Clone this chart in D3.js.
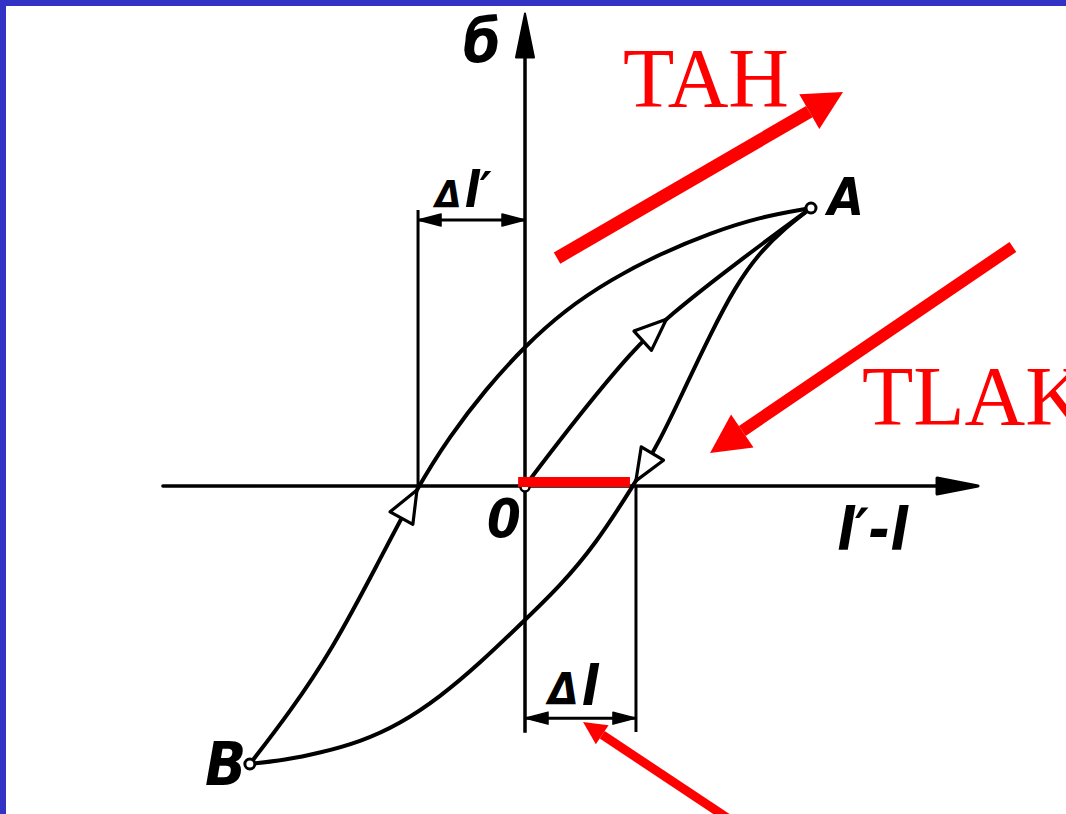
<!DOCTYPE html>
<html>
<head>
<meta charset="utf-8">
<script src="https://cdn.jsdelivr.net/npm/d3@7"></script>
<style>
  html, body { margin: 0; padding: 0; background: #fff; }
  svg { display: block; }
</style>
</head>
<body>
<div id="chart"></div>
<script>
// Hysteresis loop (Bauschinger effect) - stress vs. strain, with TAH / TLAK notes.
// Data units: point A sits at (10, 10), origin O at (0, 0).

const loadBranch   = [[0, 0], [1.92, 2.59], [3.78, 4.89], [4.97, 6.08], [7.52, 8.13], [10, 10]];
const unloadBranch = [[10, 10], [9.09, 9.28], [8.22, 8.42], [7.34, 7.16], [6.47, 5.43], [5.59, 3.53],
                      [4.72, 1.62], [3.78, 0], [2.45, -2.12], [1.22, -3.60], [0, -4.82],
                      [-1.57, -6.37], [-2.97, -7.59], [-4.37, -8.56], [-5.77, -9.21],
                      [-7.17, -9.60], [-8.39, -9.86], [-9.62, -10]];
const reloadBranch = [[-9.62, -10], [-8.22, -8.13], [-6.75, -5.90], [-5.17, -2.84], [-3.74, 0],
                      [-2.62, 1.80], [-1.40, 3.45], [0, 5.04], [1.40, 6.33], [2.97, 7.41],
                      [4.72, 8.35], [6.47, 9.10], [8.22, 9.68], [10, 10]];

const endPoints   = [{ name: "A", x: 10, y: 10 }, { name: "B", x: -9.62, y: -10 }];
const branchArrowTips = [[4.90, 6.04], [3.95, 0.14], [-3.78, -0.14]];

const xAxisRange = [-12.66, 15.84];
const yAxisRange = [-8.88, 17.0];

// dimension lines: span [x0, x1, y], extension line [x, y0, y1]
const dimDeltaLp = { span: [-3.74, 0, 9.57], ext: [-3.74, 0, 9.93] };
const dimDeltaL  = { span: [0, 3.88, -8.35], ext: [3.88, 0, -8.85] };

const redSegment = [[-0.24, 0.14], [3.67, 0.14]];
const redArrows  = [
  { from: [1.12, 8.20],  to: [11.12, 14.17] },
  { from: [17.06, 8.60], to: [6.47, 1.19] },
  { from: [7.60, -12.3], to: [2.03, -8.49] }
];

const labels = [
  { text: "б",    x: -2.17, y: 15.25, kind: "sym", size: 60 },
  { text: "A",    x: 10.59, y: 9.75,  kind: "sym", size: 52 },
  { text: "B",    x: -11.19, y: -10.76, kind: "sym", size: 60 },
  { text: "0",    x: -1.33, y: -1.83, kind: "sym", size: 54 },
  { text: "l′-l", x: 10.91, y: -2.30, kind: "sym", size: 58 },
  { text: "TAH",  x: 3.43,  y: 13.63, kind: "note", size: 84 },
  { text: "TLAK", x: 11.78, y: 2.19,  kind: "note", size: 84 }
];

const deltaLabels = [
  { x: -3.15, y: 10.04, l: "l′" },
  { x: 0.80,  y: -7.88, l: "l" }
];

const W = 1066, H = 814;
const xS = d3.scaleLinear().domain([0, 10]).range([525, 811]);
const yS = d3.scaleLinear().domain([0, 10]).range([486, 208]);
const P = d => [xS(d[0]), yS(d[1])];

const svg = d3.select("#chart").append("svg")
  .attr("width", W).attr("height", H).attr("viewBox", `0 0 ${W} ${H}`);

svg.append("rect").attr("width", W).attr("height", H).attr("fill", "#fff");
svg.append("rect").attr("width", W).attr("height", 6).attr("fill", "#3232c4");
svg.append("rect").attr("width", 6).attr("height", H).attr("fill", "#3232c4");

const ink = "#000";
const g = svg.append("g");

function head(tip, from, len, hw) {
  const [tx, ty] = tip, [fx, fy] = from;
  const d = Math.hypot(tx - fx, ty - fy);
  const ux = (tx - fx) / d, uy = (ty - fy) / d;
  const bx = tx - ux * len, by = ty - uy * len;
  return { pts: [[tx, ty], [bx - uy * hw, by + ux * hw], [bx + uy * hw, by - ux * hw]], base: [bx, by] };
}

// axes
g.append("line")
  .attr("x1", xS(xAxisRange[0])).attr("x2", xS(xAxisRange[1]) - 30)
  .attr("y1", yS(0)).attr("y2", yS(0))
  .attr("stroke", ink).attr("stroke-width", 3.5).attr("stroke-linecap", "round");
g.append("line")
  .attr("x1", xS(0)).attr("x2", xS(0))
  .attr("y1", yS(yAxisRange[0])).attr("y2", yS(yAxisRange[1]) + 30)
  .attr("stroke", ink).attr("stroke-width", 3.5);

const xHead = head([xS(xAxisRange[1]), yS(0)], [xS(0), yS(0)], 41, 8);
g.append("polygon").attr("points", xHead.pts.join(" ")).attr("fill", ink)
  .attr("stroke", ink).attr("stroke-width", 3).attr("stroke-linejoin", "round");
const yHead = head([xS(0), yS(yAxisRange[1])], [xS(0), yS(0)], 44, 9);
g.append("polygon").attr("points", yHead.pts.join(" ")).attr("fill", ink)
  .attr("stroke", ink).attr("stroke-width", 2).attr("stroke-linejoin", "round");

// dimension lines
[dimDeltaLp, dimDeltaL].forEach(dm => {
  const [x0, x1, y] = dm.span;
  const [ex, ey0, ey1] = dm.ext;
  g.append("line")
    .attr("x1", xS(ex)).attr("x2", xS(ex))
    .attr("y1", yS(ey0)).attr("y2", yS(ey1))
    .attr("stroke", ink).attr("stroke-width", 3);
  g.append("line")
    .attr("x1", xS(x0)).attr("x2", xS(x1))
    .attr("y1", yS(y)).attr("y2", yS(y))
    .attr("stroke", ink).attr("stroke-width", 3);
  [[x0, x1], [x1, x0]].forEach(([a, b]) => {
    const h = head([xS(a), yS(y)], [xS(b), yS(y)], 23, 6);
    g.append("polygon").attr("points", h.pts.join(" ")).attr("fill", ink)
      .attr("stroke", ink).attr("stroke-width", 1.5).attr("stroke-linejoin", "round");
  });
});

// loop branches (B-spline smoothing, like a hand-drawn curve)
const lineGen = d3.line().x(d => xS(d[0])).y(d => yS(d[1])).curve(d3.curveBasis);
const branchNodes = [loadBranch, unloadBranch, reloadBranch].map(br =>
  g.append("path")
    .datum(br)
    .attr("d", lineGen)
    .attr("fill", "none")
    .attr("stroke", ink)
    .attr("stroke-width", 4)
    .attr("stroke-linecap", "round")
    .node());

// open arrowheads on each branch, pointing along the branch direction
branchArrowTips.forEach((tipD, i) => {
  const node = branchNodes[i];
  const total = node.getTotalLength();
  const [tx, ty] = P(tipD);
  let best = 0, bestD = Infinity;
  for (let L = 0; L <= total; L += 0.5) {
    const p = node.getPointAtLength(L);
    const dd = (p.x - tx) ** 2 + (p.y - ty) ** 2;
    if (dd < bestD) { bestD = dd; best = L; }
  }
  const tip = node.getPointAtLength(best);
  const back = node.getPointAtLength(Math.max(0, best - 20));
  const h = head([tip.x, tip.y], [back.x, back.y], 32, 13);
  g.append("polygon").attr("points", h.pts.join(" "))
    .attr("fill", "#fff").attr("stroke", ink).attr("stroke-width", 3.2)
    .attr("stroke-linejoin", "round");
});

// origin and end point circles
g.append("circle").attr("cx", xS(0)).attr("cy", yS(0) + 1).attr("r", 4.5)
  .attr("fill", "#fff").attr("stroke", ink).attr("stroke-width", 2.5);
g.selectAll(".endpt").data(endPoints).join("circle")
  .attr("cx", d => xS(d.x)).attr("cy", d => yS(d.y)).attr("r", 5)
  .attr("fill", "#fff").attr("stroke", ink).attr("stroke-width", 3);

// red marks
g.append("line")
  .attr("x1", xS(redSegment[0][0])).attr("x2", xS(redSegment[1][0]))
  .attr("y1", yS(redSegment[0][1])).attr("y2", yS(redSegment[1][1]))
  .attr("stroke", "#ff0000").attr("stroke-width", 10);

const redStyle = [
  { w: 13, len: 39, hw: 20 },
  { w: 12, len: 39, hw: 20 },
  { w: 9,  len: 23, hw: 11.5 }
];
redArrows.forEach((a, i) => {
  const s = redStyle[i];
  const from = P(a.from), to = P(a.to);
  const h = head(to, from, s.len, s.hw);
  g.append("line")
    .attr("x1", from[0]).attr("y1", from[1])
    .attr("x2", h.base[0]).attr("y2", h.base[1])
    .attr("stroke", "#ff0000").attr("stroke-width", s.w);
  g.append("polygon").attr("points", h.pts.join(" ")).attr("fill", "#ff0000");
});

// text
const symFont = "'DejaVu Sans Condensed', 'DejaVu Sans', sans-serif";
labels.forEach(l => {
  const t = g.append("text")
    .attr("x", xS(l.x)).attr("y", yS(l.y))
    .attr("font-size", l.size + "px")
    .text(l.text);
  if (l.kind === "note") {
    t.attr("font-family", "'Liberation Serif', 'Times New Roman', serif").attr("fill", "#ff0000");
  } else {
    t.attr("font-family", symFont).attr("font-style", "italic").attr("font-weight", "bold")
      .attr("font-stretch", "condensed").attr("fill", ink);
  }
});

// delta labels: triangle + tall l
const deltaSizes = [{ d: 38, l: 50 }, { d: 44, l: 56 }];
deltaLabels.forEach((lb, i) => {
  const t = g.append("text")
    .attr("x", xS(lb.x)).attr("y", yS(lb.y))
    .attr("font-family", symFont).attr("font-style", "italic").attr("font-weight", "bold")
    .attr("font-stretch", "condensed").attr("fill", ink);
  t.append("tspan").attr("font-size", deltaSizes[i].d + "px").text("Δ");
  t.append("tspan").attr("font-size", deltaSizes[i].l + "px").attr("dx", 3).text(lb.l);
});
</script>
</body>
</html>
